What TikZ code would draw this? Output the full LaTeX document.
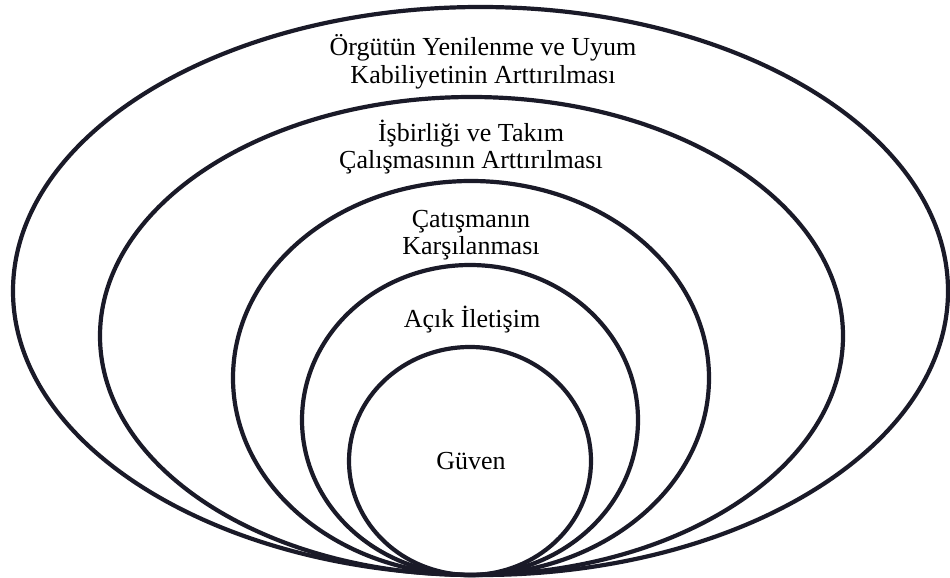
\documentclass[tikz,border=0pt]{standalone}
\usepackage{fontspec}
\setmainfont{Liberation Serif}
\definecolor{inkline}{RGB}{26,26,40}
\begin{document}
\begin{tikzpicture}[x=1pt,y=-1pt,
  ring/.style={draw=inkline,line width=4.2pt},
  lbl/.style={align=center,inner sep=0pt,font=\fontsize{26}{27.5}\selectfont,text=black}]
\useasboundingbox (0,0) rectangle (950,578);
\fill[white] (0,0) rectangle (950,578);
\draw[ring] (480.5,291) ellipse [x radius=467.5pt, y radius=284pt];
\draw[ring] (471.5,336) ellipse [x radius=371.5pt, y radius=239pt];
\draw[ring] (471,378) ellipse [x radius=238pt, y radius=197pt];
\draw[ring] (470,420) ellipse [x radius=168pt, y radius=155pt];
\draw[ring] (470,461) ellipse [x radius=121pt, y radius=114pt];
\node[lbl] (t1) at (483,62) {Örgütün Yenilenme ve Uyum\\Kabiliyetinin Arttırılması};
\node[lbl] (t2) at (471,147) {İşbirliği ve Takım\\Çalışmasının Arttırılması};
\node[lbl] (t3) at (471,235) {Çatışmanın\\Karşılanması};
\node[lbl] (t4) at (472,320) {Açık İletişim};
\node[lbl] (t5) at (471,461) {Güven};
\end{tikzpicture}
\end{document}
